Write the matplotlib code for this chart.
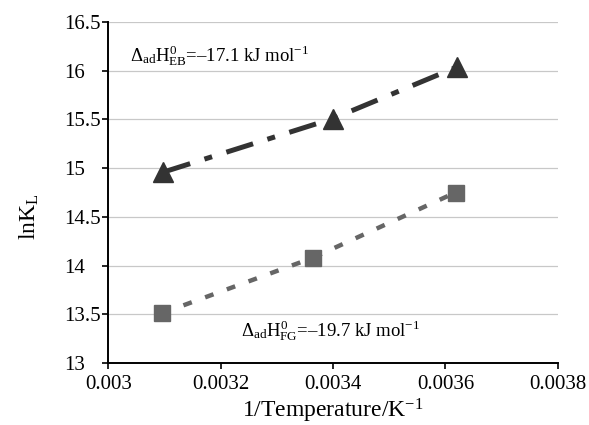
import matplotlib
matplotlib.use("Agg")
import matplotlib.pyplot as plt

plt.rcParams["font.family"] = ["Liberation Serif", "DejaVu Serif"]
plt.rcParams["mathtext.fontset"] = "custom"
plt.rcParams["mathtext.rm"] = "Liberation Serif"
plt.rcParams["mathtext.it"] = "Liberation Serif"

# EB series (triangles) and FG series (squares)
eb_x = [0.003098, 0.003400, 0.003621]
eb_y = [14.96, 15.51, 16.04]
fg_x = [0.003095, 0.003364, 0.003618]
fg_y = [13.51, 14.08, 14.75]

xticks = [0.003, 0.0032, 0.0034, 0.0036, 0.0038]
xticklabels = ["0.003", "0.0032", "0.0034", "0.0036", "0.0038"]
yticks = [13, 13.5, 14, 14.5, 15, 15.5, 16, 16.5]
yticklabels = ["13", "13.5", "14", "14.5", "15", "15.5", "16", "16.5"]

fig = plt.figure(figsize=(5.89, 4.25), dpi=100)
ax = fig.add_axes([0.184, 0.146, 0.763, 0.802])

for y in yticks[1:]:
    ax.axhline(y, color="#c8c8c8", linewidth=0.9, zorder=0)

ax.plot(eb_x, eb_y, color="#333333", linewidth=3.6, dashes=(5.6, 3, 1.6, 3), zorder=2)
ax.plot(eb_x, eb_y, linestyle="none", marker="^", markersize=14.5, color="#333333", zorder=3)
ax.plot(fg_x, fg_y, color="#666666", linewidth=3.2, dashes=(2.0, 3.2), zorder=2)
ax.plot(fg_x, fg_y, linestyle="none", marker="s", markersize=11, color="#666666", zorder=3)

ax.text(0.003038, 16.15, r"$\Delta_{\rm ad}H^{0}_{\rm EB}$=" + "\u201317.1 kJ mol" + r"$^{-1}$",
        fontsize=13.5, ha="left", va="center")
ax.text(0.003236, 13.33, r"$\Delta_{\rm ad}H^{0}_{\rm FG}$=" + "\u201319.7 kJ mol" + r"$^{-1}$",
        fontsize=13.5, ha="left", va="center")

ax.set_xlim(0.003, 0.0038)
ax.set_ylim(13, 16.5)
ax.set_xticks(xticks)
ax.set_xticklabels(xticklabels, fontsize=15)
ax.set_yticks(yticks)
ax.set_yticklabels(yticklabels, fontsize=15)
ax.tick_params(direction="out", length=4, width=1.2)
ax.tick_params(axis="x", pad=5)
ax.tick_params(axis="y", pad=28)
for lab in ax.get_yticklabels():
    lab.set_horizontalalignment("left")

for s in ["top", "right"]:
    ax.spines[s].set_visible(False)
for s in ["left", "bottom"]:
    ax.spines[s].set_linewidth(1.4)

ax.set_xlabel("1/Temperature/K$^{-1}$", fontsize=17, labelpad=2)
ax.set_ylabel("lnK$_{\\rm L}$", fontsize=17)
ax.yaxis.set_label_coords(-0.15, 0.43)

fig.savefig("out.png", dpi=100)
